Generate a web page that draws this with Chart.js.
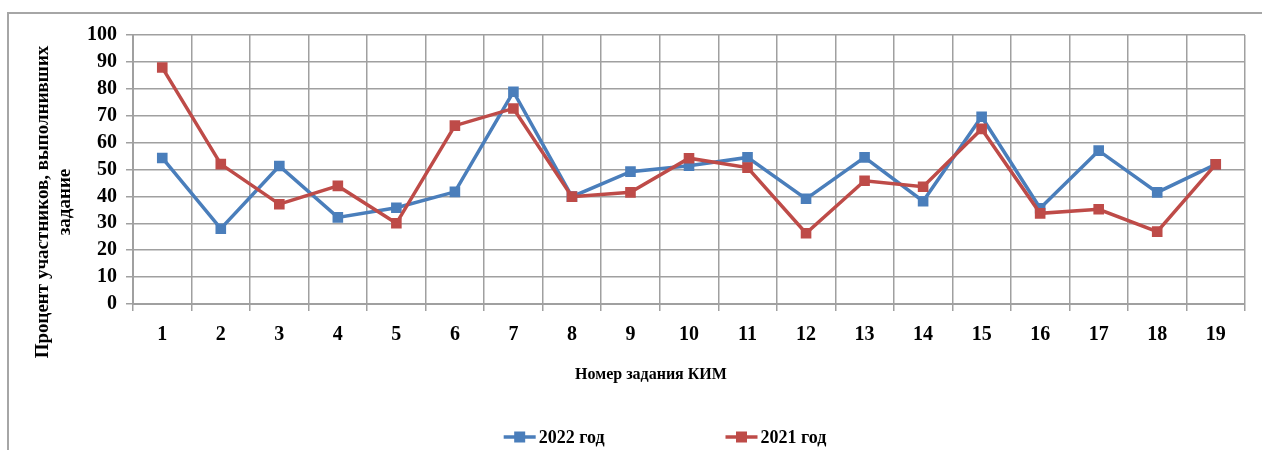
<!DOCTYPE html>
<html>
<head>
<meta charset="utf-8">
<script src="https://cdn.jsdelivr.net/npm/chart.js@4"></script>
<style>
  body { margin: 0; background: #fff; overflow: hidden; }
  #frame {
    position: absolute; left: 7px; top: 12px; width: 1400px; height: 500px;
    border-left: 2px solid #a6a6a6; border-top: 2px solid #a6a6a6;
  }
  #wrap { position: absolute; left: 0; top: 0; width: 1330px; height: 450px; }
</style>
</head>
<body>
<div id="frame"></div>
<div id="wrap"><canvas id="kimChart"></canvas></div>
<script>
const tasks = ["1", "2", "3", "4", "5", "6", "7", "8", "9", "10", "11", "12", "13", "14", "15", "16", "17", "18", "19"];
const year2022 = [54.3, 28, 51.3, 32.2, 35.8, 41.7, 78.9, 39.9, 49.2, 51.4, 54.5, 39.1, 54.5, 38.2, 69.6, 35.6, 57, 41.5, 51.9];
const year2021 = [87.9, 52, 37.1, 43.9, 30, 66.3, 72.7, 39.9, 41.5, 54.2, 50.7, 26.3, 45.8, 43.6, 65.1, 33.7, 35.2, 26.9, 51.9];
const seriesNames = ["2022 год", "2021 год"];
const yTitle = ["Процент участников, выполнивших", "задание"];
const xTitle = "Номер задания КИМ";

const color = {
  y2022: "#4a7ebb",
  y2021: "#be4b48",
  grid: "#a0a0a0"
};

const serif = "'Liberation Serif', 'Times New Roman', serif";

// axis titles and legend drawn by hand, Excel puts them off-centre
const extrasPlugin = {
  id: "extras",
  afterDraw(chart) {
    const ctx = chart.ctx;
    ctx.save();
    ctx.fillStyle = "#000";
    ctx.textBaseline = "middle";

    // y title, rotated
    ctx.font = "bold 19px " + serif;
    ctx.textAlign = "center";
    ctx.save();
    ctx.translate(43, 202);
    ctx.rotate(-Math.PI / 2);
    ctx.fillText(yTitle[0], 0, 0);
    ctx.fillText(yTitle[1], 0, 22);
    ctx.restore();

    // x title
    ctx.font = "bold 16px " + serif;
    ctx.fillText(xTitle, chart.width / 2 - 14, 375);

    // legend: line + square marker + text
    ctx.font = "bold 18px " + serif;
    const lineLen = 32, gap = 3, spacing = 121;
    const items = chart.data.datasets.map(ds => ({
      ds: ds,
      w: lineLen + gap + ctx.measureText(ds.label).width
    }));
    const total = items.reduce((s, it) => s + it.w, 0) + spacing * (items.length - 1);
    let x = chart.width / 2 - total / 2;
    const y = 437;
    ctx.textAlign = "left";
    items.forEach(it => {
      ctx.strokeStyle = it.ds.borderColor;
      ctx.lineWidth = 3.5;
      ctx.beginPath();
      ctx.moveTo(x, y);
      ctx.lineTo(x + lineLen, y);
      ctx.stroke();
      ctx.fillStyle = it.ds.borderColor;
      ctx.fillRect(x + lineLen / 2 - 5.5, y - 5.5, 11, 11);
      ctx.fillStyle = "#000";
      ctx.fillText(it.ds.label, x + lineLen + gap, y + 1);
      x += it.w + spacing;
    });
    ctx.restore();
  }
};

const ctx = document.getElementById("kimChart").getContext("2d");
new Chart(ctx, {
  type: "line",
  data: {
    labels: tasks,
    datasets: [
      {
        label: seriesNames[0],
        data: year2022,
        borderColor: color.y2022,
        backgroundColor: color.y2022,
        borderWidth: 3.5,
        pointStyle: "rect",
        pointRadius: 7.5,
        pointBorderWidth: 0,
        tension: 0,
        order: 1
      },
      {
        label: seriesNames[1],
        data: year2021,
        borderColor: color.y2021,
        backgroundColor: color.y2021,
        borderWidth: 3.5,
        pointStyle: "rect",
        pointRadius: 7.5,
        pointBorderWidth: 0,
        tension: 0,
        order: 0
      }
    ]
  },
  options: {
    responsive: true,
    maintainAspectRatio: false,
    animation: false,
    layout: { padding: { left: 0, top: 35, right: 85, bottom: 0 } },
    plugins: {
      legend: { display: false },
      tooltip: { enabled: false }
    },
    scales: {
      x: {
        offset: true,
        grid: { offset: true, color: color.grid, lineWidth: 1.5, tickLength: 7 },
        border: { color: color.grid, width: 2 },
        ticks: { color: "#000", font: { family: serif, size: 20, weight: "bold" }, padding: 12, maxRotation: 0, autoSkip: false },
        afterFit(scale) { scale.height = 146; }
      },
      y: {
        min: 0,
        max: 100,
        ticks: { stepSize: 10, autoSkip: false, color: "#000", font: { family: serif, size: 20, weight: "bold" }, padding: 9 },
        grid: { color: color.grid, lineWidth: 1.5, tickLength: 7 },
        border: { color: color.grid, width: 2 },
        afterFit(scale) { scale.width = 133; }
      }
    }
  },
  plugins: [extrasPlugin]
});
</script>
</body>
</html>
